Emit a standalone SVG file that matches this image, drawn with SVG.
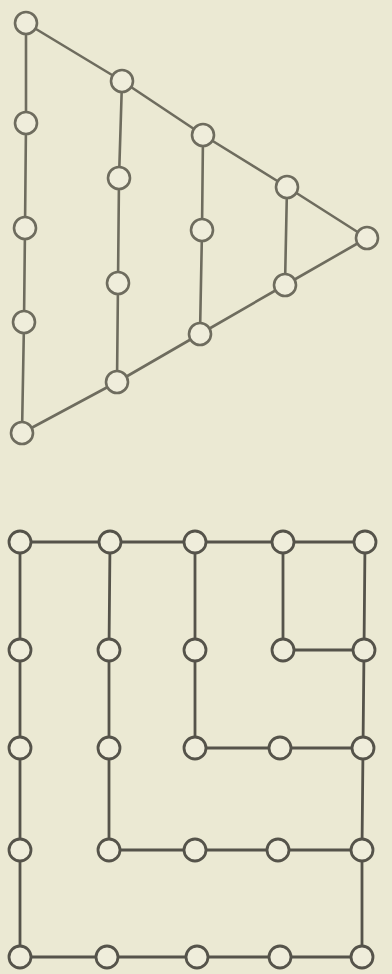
<svg xmlns="http://www.w3.org/2000/svg" width="392" height="974" viewBox="0 0 392 974">
<style>
.bg{fill:#ebe9d3}
.e{stroke:#6e6c5e;stroke-width:2.6;fill:none;stroke-linecap:round;stroke-linejoin:round}
.e2{stroke:#55534a;stroke-width:2.8;fill:none;stroke-linecap:round;stroke-linejoin:round}
.n{fill:#efeddb;stroke:#6e6c5e;stroke-width:2.6}
.n2{fill:#efeddb;stroke:#55534a;stroke-width:2.8}
</style>
<rect class="bg" x="0" y="0" width="392" height="974"/>
<g id="connectors">
<polyline class="e" points="26,23 122,81 203,135 287,187 367,238"/>
<polyline class="e" points="22,433 117,382 200,334 285,285 367,238"/>
<polyline class="e" points="26,23 26,123 25,228 24,322 22,433"/>
<polyline class="e" points="122,81 119,178 118,283 117,382"/>
<polyline class="e" points="203,135 202,230 200,334"/>
<polyline class="e" points="287,187 285,285"/>
<polyline class="e2" points="20,542 110,542 195,542 283,542 365,542"/>
<polyline class="e2" points="20,542 20,650 20,748 20,850 20,957"/>
<polyline class="e2" points="20,957 107,957 197,957 280,957 362,957"/>
<polyline class="e2" points="365,542 364,650 363,748 362,850 362,957"/>
<polyline class="e2" points="110,542 109,650 109,748 109,850 195,850 278,850 362,850"/>
<polyline class="e2" points="195,542 195,650 195,748 280,748 363,748"/>
<polyline class="e2" points="283,542 283,650 364,650"/>
</g>
<g id="triangle-nodes">
<circle id="t1" class="n" cx="26" cy="23" r="11"/>
<circle id="t2" class="n" cx="26" cy="123" r="11"/>
<circle id="t3" class="n" cx="25" cy="228" r="11"/>
<circle id="t4" class="n" cx="24" cy="322" r="11"/>
<circle id="t5" class="n" cx="22" cy="433" r="11"/>
<circle id="t6" class="n" cx="122" cy="81" r="11"/>
<circle id="t7" class="n" cx="119" cy="178" r="11"/>
<circle id="t8" class="n" cx="118" cy="283" r="11"/>
<circle id="t9" class="n" cx="117" cy="382" r="11"/>
<circle id="t10" class="n" cx="203" cy="135" r="11"/>
<circle id="t11" class="n" cx="202" cy="230" r="11"/>
<circle id="t12" class="n" cx="200" cy="334" r="11"/>
<circle id="t13" class="n" cx="287" cy="187" r="11"/>
<circle id="t14" class="n" cx="285" cy="285" r="11"/>
<circle id="t15" class="n" cx="367" cy="238" r="11"/>
</g>
<g id="grid-nodes">
<circle id="g11" class="n2" cx="20" cy="542" r="11"/>
<circle id="g12" class="n2" cx="110" cy="542" r="11"/>
<circle id="g13" class="n2" cx="195" cy="542" r="11"/>
<circle id="g14" class="n2" cx="283" cy="542" r="11"/>
<circle id="g15" class="n2" cx="365" cy="542" r="11"/>
<circle id="g21" class="n2" cx="20" cy="650" r="11"/>
<circle id="g22" class="n2" cx="109" cy="650" r="11"/>
<circle id="g23" class="n2" cx="195" cy="650" r="11"/>
<circle id="g24" class="n2" cx="283" cy="650" r="11"/>
<circle id="g25" class="n2" cx="364" cy="650" r="11"/>
<circle id="g31" class="n2" cx="20" cy="748" r="11"/>
<circle id="g32" class="n2" cx="109" cy="748" r="11"/>
<circle id="g33" class="n2" cx="195" cy="748" r="11"/>
<circle id="g34" class="n2" cx="280" cy="748" r="11"/>
<circle id="g35" class="n2" cx="363" cy="748" r="11"/>
<circle id="g41" class="n2" cx="20" cy="850" r="11"/>
<circle id="g42" class="n2" cx="109" cy="850" r="11"/>
<circle id="g43" class="n2" cx="195" cy="850" r="11"/>
<circle id="g44" class="n2" cx="278" cy="850" r="11"/>
<circle id="g45" class="n2" cx="362" cy="850" r="11"/>
<circle id="g51" class="n2" cx="20" cy="957" r="11"/>
<circle id="g52" class="n2" cx="107" cy="957" r="11"/>
<circle id="g53" class="n2" cx="197" cy="957" r="11"/>
<circle id="g54" class="n2" cx="280" cy="957" r="11"/>
<circle id="g55" class="n2" cx="362" cy="957" r="11"/>
</g>
</svg>
